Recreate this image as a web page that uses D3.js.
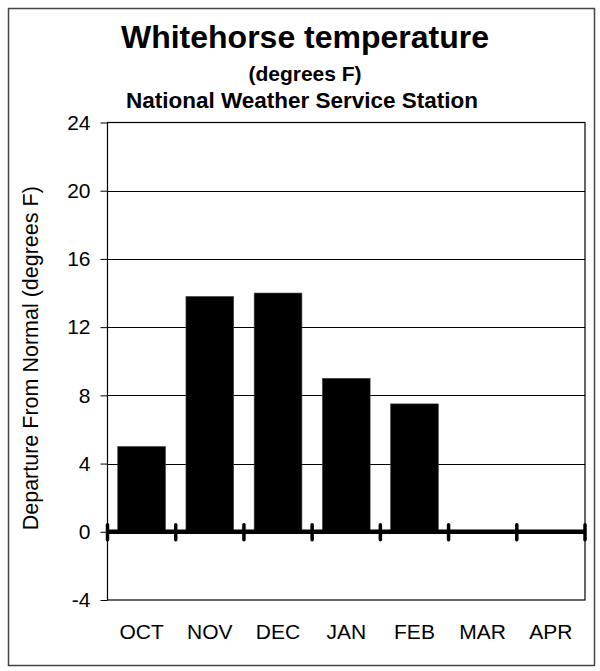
<!DOCTYPE html>
<html>
<head>
<meta charset="utf-8">
<script src="https://cdn.jsdelivr.net/npm/d3@7"></script>
<style>
  html, body { margin: 0; padding: 0; background: #fff; }
  svg { display: block; font-family: "Liberation Sans", Arial, sans-serif; }
</style>
</head>
<body>
<svg id="chart" width="600" height="671"></svg>
<script>
const months = ["OCT", "NOV", "DEC", "JAN", "FEB", "MAR", "APR"];
const departures = [5.0, 13.8, 14.0, 9.0, 7.5, null, null];
const yTicks = [-4, 0, 4, 8, 12, 16, 20, 24];
const titleText = "Whitehorse temperature";
const subtitleLines = ["(degrees F)", "National Weather Service Station"];
const yAxisTitle = "Departure From Normal (degrees F)";

const svg = d3.select("#chart");
const m = { left: 107.5, right: 585, top: 122.5, bottom: 600 };

// outer frame
svg.append("rect").attr("x", 8.5).attr("y", 8.5).attr("width", 586).attr("height", 657)
  .attr("fill", "#fff").attr("stroke", "#444").attr("stroke-width", 1.5);

const x = d3.scaleBand().domain(months).range([m.left, m.right]).paddingInner(0).paddingOuter(0);
const y = d3.scaleLinear().domain([-4, 24]).range([m.bottom, m.top]);

// gridlines
svg.append("g").selectAll("line").data(yTicks.filter(t => t !== 24 && t !== -4 && t !== 0)).join("line")
  .attr("x1", m.left).attr("x2", m.right)
  .attr("y1", d => Math.round(y(d)) + 0.5).attr("y2", d => Math.round(y(d)) + 0.5)
  .attr("stroke", "#000").attr("stroke-width", 1);

// bars
const barW = x.bandwidth() * 0.7;
svg.append("g").selectAll("rect").data(months.map((mo, i) => ({ mo, v: departures[i] })).filter(d => d.v != null)).join("rect")
  .attr("x", d => x(d.mo) + (x.bandwidth() - barW) / 2)
  .attr("width", barW)
  .attr("y", d => y(Math.max(0, d.v)))
  .attr("height", d => Math.abs(y(d.v) - y(0)))
  .attr("fill", "#000").attr("stroke", "#444").attr("stroke-width", 0.6);

// plot frame
svg.append("rect").attr("x", m.left).attr("y", m.top)
  .attr("width", m.right - m.left).attr("height", m.bottom - m.top)
  .attr("fill", "none").attr("stroke", "#000").attr("stroke-width", 1.2);

// y axis
const yAxis = d3.axisLeft(y).tickValues(yTicks).tickSize(7).tickPadding(10).tickFormat(d => String(d));
const gy = svg.append("g").attr("transform", `translate(${m.left},0)`).call(yAxis);
gy.select(".domain").remove();
gy.selectAll(".tick line").attr("stroke", "#000").attr("stroke-width", 1);
gy.selectAll(".tick text").attr("font-size", 21).attr("fill", "#000")
  .attr("font-family", "'Liberation Sans', Arial, sans-serif");

// x axis labels
const xAxis = d3.axisBottom(x).tickSize(0).tickPadding(24);
const gx = svg.append("g").attr("transform", `translate(0,${m.bottom})`).call(xAxis);
gx.select(".domain").remove();
gx.selectAll(".tick text").attr("font-size", 21).attr("fill", "#000")
  .attr("font-family", "'Liberation Sans', Arial, sans-serif");

// zero line with category-boundary ticks
const y0 = y(0);
svg.append("line").attr("x1", m.left).attr("x2", m.right).attr("y1", y0).attr("y2", y0)
  .attr("stroke", "#000").attr("stroke-width", 4.5);
const bounds = months.map(mo => x(mo)).concat([m.right]);
svg.append("g").selectAll("line").data(bounds).join("line")
  .attr("x1", d => d).attr("x2", d => d)
  .attr("y1", y0 - 7).attr("y2", y0 + 8)
  .attr("stroke", "#000").attr("stroke-width", 3.5).attr("stroke-linecap", "round");

// titles
svg.append("text").attr("x", 305).attr("y", 48).attr("text-anchor", "middle")
  .attr("font-size", 32).attr("font-weight", "bold").text(titleText);
svg.append("text").attr("x", 305).attr("y", 81).attr("text-anchor", "middle")
  .attr("font-size", 21).attr("font-weight", "bold").text(subtitleLines[0]);
svg.append("text").attr("x", 302).attr("y", 108).attr("text-anchor", "middle")
  .attr("font-size", 22.5).attr("font-weight", "bold").text(subtitleLines[1]);

// y axis title
svg.append("text").attr("transform", `translate(38,${(m.top + m.bottom) / 2 - 3}) rotate(-90)`)
  .attr("text-anchor", "middle").attr("font-size", 21.5).text(yAxisTitle);
</script>
</body>
</html>
